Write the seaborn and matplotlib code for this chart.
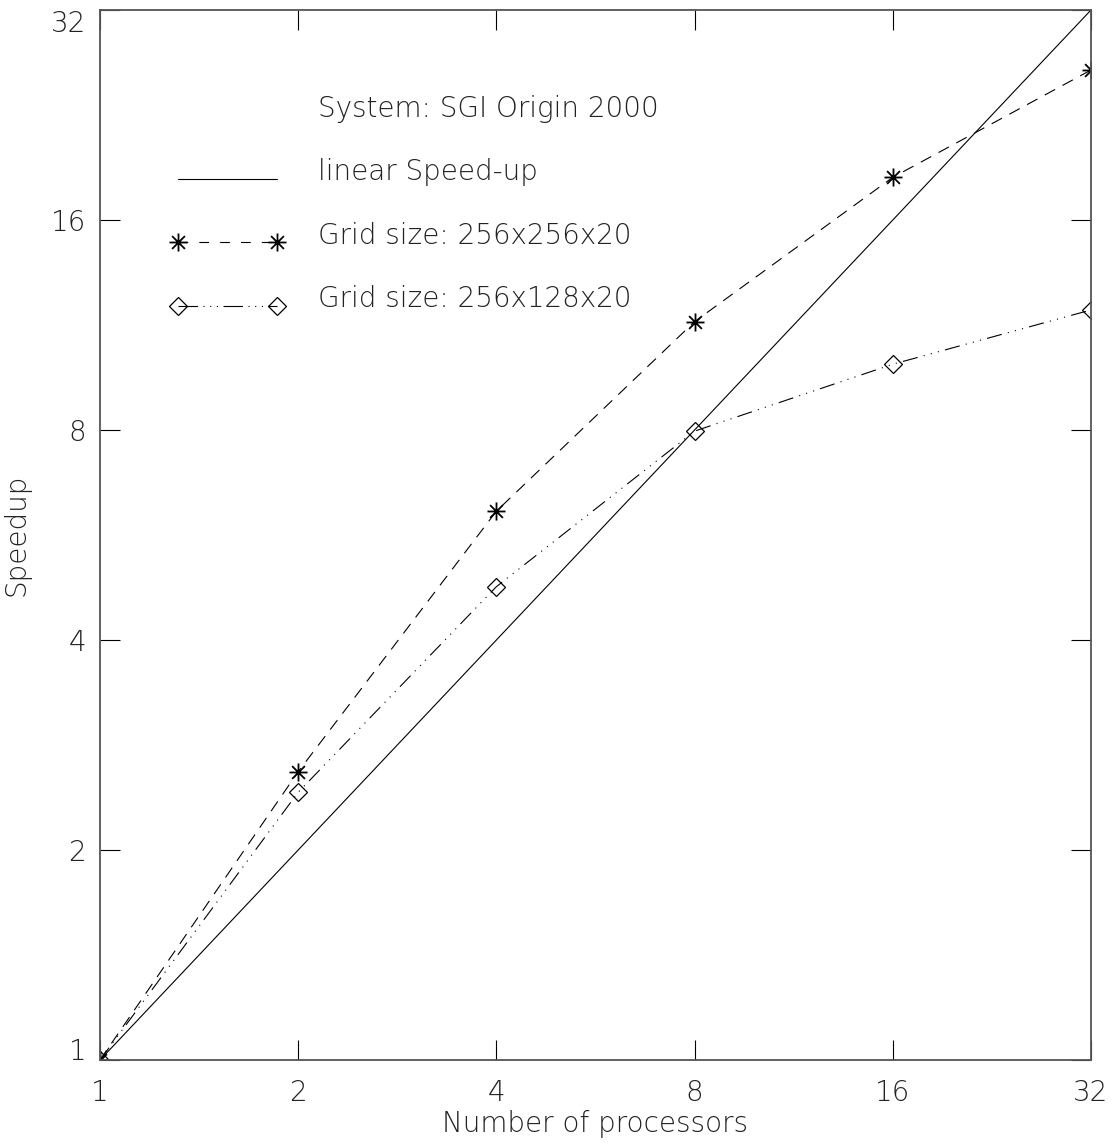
import numpy as np
import pandas as pd
import seaborn as sns
import matplotlib
matplotlib.use("Agg")
import matplotlib.pyplot as plt
from matplotlib.path import Path
from matplotlib.lines import Line2D
from matplotlib.transforms import Affine2D

# Measured speedups on the SGI Origin 2000
processors = [1, 2, 4, 8, 16, 32]
speedup_256x256 = [1.0, 2.59, 6.12, 11.44, 18.42, 26.25]
speedup_256x128 = [1.0, 2.42, 4.77, 7.97, 9.94, 11.89]
linear = [1, 2, 4, 8, 16, 32]
tick_values = [1, 2, 4, 8, 16, 32]
tick_labels = ["1", "2", "4", "8", "16", "32"]

sns.set_style("white")
plt.rcParams["font.family"] = ["DejaVu Sans"]
plt.rcParams["lines.scale_dashes"] = False

FS = 20
TXT = "#222222"

fig = plt.figure(figsize=(11.14, 11.46), dpi=100)
ax = fig.add_axes([100 / 1114, 86 / 1146, 991 / 1114, 1050 / 1146])

df = pd.DataFrame({
    "processors": processors,
    "s1": speedup_256x256,
    "s2": speedup_256x128,
    "lin": linear,
})

# eight-armed asterisk marker
ast = Path(
    [(-1, 0), (1, 0), (0, -1), (0, 1),
     (-0.71, -0.71), (0.71, 0.71), (-0.71, 0.71), (0.71, -0.71)],
    [Path.MOVETO, Path.LINETO] * 4,
)

dash_style = (0, (8.5, 6.0))
dashdot3_style = (0, (11, 4.5, 0.8, 4.5, 0.8, 4.5, 0.8, 4.5))

star_kw = dict(marker=ast, markersize=13, markeredgewidth=1.3,
               markeredgecolor="black", markerfacecolor="none")
diam_kw = dict(marker="D", markersize=9, markeredgewidth=0.9,
               markeredgecolor="black", markerfacecolor="none")

sns.lineplot(data=df, x="processors", y="lin", ax=ax, color="black",
             lw=0.8, legend=False, estimator=None)
sns.lineplot(data=df, x="processors", y="s1", ax=ax, color="black",
             lw=0.8, linestyle=dash_style, legend=False, estimator=None,
             **star_kw)
sns.lineplot(data=df, x="processors", y="s2", ax=ax, color="black",
             lw=0.8, linestyle=dashdot3_style, legend=False, estimator=None,
             **diam_kw)

ax.set_xscale("log", base=2)
ax.set_yscale("log", base=2)
ax.set_xlim(1, 32)
ax.set_ylim(1, 32)
ax.set_xticks(tick_values)
ax.set_xticklabels(tick_labels)
ax.set_yticks(tick_values)
ax.set_yticklabels(tick_labels)
ax.minorticks_off()

ax.tick_params(axis="both", which="major", direction="in", length=14.5,
               width=0.8, color="black", labelsize=FS, labelcolor=TXT,
               top=True, right=True, bottom=True, left=True)
ax.tick_params(axis="x", pad=14)
ax.tick_params(axis="y", pad=10)
for lab in ax.get_xticklabels() + ax.get_yticklabels():
    lab.set_fontweight("light")
ylabs = ax.get_yticklabels()
ylabs[0].set_verticalalignment("baseline")
ylabs[-1].set_verticalalignment("top")

for sp in ax.spines.values():
    sp.set_color("#555555")
    sp.set_linewidth(1.3)
    sp.set_visible(True)

ax.set_xlabel("Number of processors", fontsize=FS, color=TXT,
              fontweight="light", labelpad=2)
ax.set_ylabel("Speedup", fontsize=FS, color=TXT, fontweight="light",
              labelpad=15)

handles = [
    Line2D([], [], linestyle="none"),
    Line2D([], [], color="black", lw=0.8),
    Line2D([], [], color="black", lw=0.8, linestyle=(0, (7, 8)), **star_kw),
    Line2D([], [], color="black", lw=0.8,
           linestyle=(0, (14, 4, 0.8, 4, 0.8, 4, 0.8, 4)), **diam_kw),
]
labels = ["System: SGI Origin 2000", "linear Speed-up",
          "Grid size: 256x256x20", "Grid size: 256x128x20"]
leg = ax.legend(handles, labels, loc="upper left",
                bbox_to_anchor=(0.0706, 0.9117), frameon=False, fontsize=FS,
                handlelength=4.16, handletextpad=1.16, labelspacing=1.28,
                borderpad=0, borderaxespad=0, numpoints=2)
# labels sit slightly above their samples
for t in leg.get_texts():
    t.set_color(TXT)
    t.set_fontweight("light")
    t.set_transform(t.get_transform() + Affine2D().translate(0, 8))

fig.savefig("out.png", dpi=100, facecolor="white")
